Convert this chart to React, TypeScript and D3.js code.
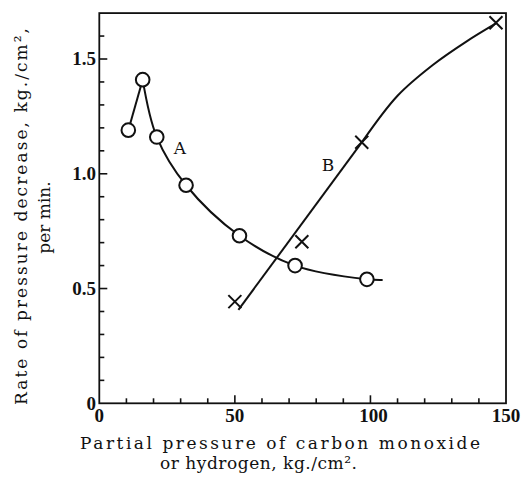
import React, { useEffect, useRef } from 'react';
import * as d3 from 'd3';

// Curve A: circles (carbon monoxide)
const aPressure = [10.7, 16, 21.2, 32, 51.7, 72.2, 98.7];
const aRate = [1.19, 1.41, 1.16, 0.95, 0.73, 0.6, 0.54];
// smooth line A: falling branch from the peak, ends a little past the last circle
const aLineX = [16, 21.2, 32, 51.7, 72.2, 98.7, 104.5];
const aLineY = [1.41, 1.16, 0.95, 0.73, 0.6, 0.54, 0.537];

// Curve B: crosses (hydrogen)
const bPressure = [50, 74.7, 96.8, 146.3];
const bRate = [0.443, 0.704, 1.137, 1.658];
const bLineX = [51.3, 97, 110, 123, 135.5, 146.3];
const bLineY = [0.407, 1.14, 1.34, 1.474, 1.577, 1.655];

const xTicks = [0, 50, 100, 150];
const yTicks = [0, 0.5, 1.0, 1.5];
const yTickLabels = ['0', '0.5', '1.0', '1.5'];

const App = () => {
  const svgRef = useRef<SVGSVGElement | null>(null);

  useEffect(() => {
    if (!svgRef.current) return;
    const width = 522;
    const height = 479;
    const svg = d3.select(svgRef.current);
    svg.attr('width', width).attr('height', height);
    svg.selectAll('*').remove();

    const x = d3.scaleLinear().domain([0, 150]).range([99.3, 506]);
    const y = d3.scaleLinear().domain([0, 1.7]).range([403.3, 13.1]);

    const ink = '#111';

    // frame
    svg.append('rect')
      .attr('x', x(0)).attr('y', y(1.7))
      .attr('width', x(150) - x(0)).attr('height', y(0) - y(1.7))
      .attr('fill', 'none').attr('stroke', ink).attr('stroke-width', 1.8);

    // inward ticks, left
    d3.range(1, 17).forEach(i => {
      const v = i / 10;
      const major = i % 5 === 0;
      svg.append('line')
        .attr('x1', x(0)).attr('x2', x(0) + (major ? 8 : 5))
        .attr('y1', y(v)).attr('y2', y(v))
        .attr('stroke', ink).attr('stroke-width', 1.6);
    });
    // inward ticks, bottom
    d3.range(1, 15).forEach(i => {
      const v = i * 10;
      const major = i % 5 === 0;
      svg.append('line')
        .attr('x1', x(v)).attr('x2', x(v))
        .attr('y1', y(0)).attr('y2', y(0) - (major ? 8 : 5))
        .attr('stroke', ink).attr('stroke-width', 1.6);
    });

    // tick labels
    const numFont = '"Liberation Serif", serif';
    yTicks.forEach((t, i) => {
      svg.append('text')
        .attr('x', 96).attr('y', y(t)).attr('dy', '0.34em')
        .attr('text-anchor', 'end')
        .style('font-family', numFont).style('font-weight', 'bold')
        .style('font-size', '19px').attr('fill', ink)
        .text(yTickLabels[i]);
    });
    xTicks.forEach(t => {
      svg.append('text')
        .attr('x', x(t) + (t === 100 ? 3 : 0)).attr('y', 422)
        .attr('text-anchor', 'middle')
        .style('font-family', numFont).style('font-weight', 'bold')
        .style('font-size', '19px').attr('fill', ink)
        .text(t);
    });

    // axis titles
    const labelFont = '"DejaVu Serif", serif';
    const labelSize = '17px';
    svg.append('text')
      .attr('x', 80).attr('y', 449)
      .attr('textLength', 400).attr('lengthAdjust', 'spacing')
      .style('font-family', labelFont).style('font-size', labelSize).attr('fill', ink)
      .text('Partial pressure of carbon monoxide');
    svg.append('text')
      .attr('x', 160).attr('y', 469)
      .attr('textLength', 197).attr('lengthAdjust', 'spacing')
      .style('font-family', labelFont).style('font-size', labelSize).attr('fill', ink)
      .text('or hydrogen, kg./cm².');

    svg.append('text')
      .attr('transform', 'translate(27,405) rotate(-90)')
      .attr('x', 0).attr('y', 0)
      .attr('textLength', 377).attr('lengthAdjust', 'spacing')
      .style('font-family', labelFont).style('font-size', labelSize).attr('fill', ink)
      .text('Rate of pressure decrease, kg./cm²,');
    svg.append('text')
      .attr('transform', 'translate(50,217.5) rotate(-90)')
      .attr('x', 0).attr('y', 0).attr('text-anchor', 'middle')
      .style('font-family', labelFont).style('font-size', labelSize).attr('fill', ink)
      .text('per min.');

    // curve A: straight rise to the peak, smooth fall after it
    svg.append('path')
      .attr('d', d3.line()([[x(aPressure[0]), y(aRate[0])], [x(aPressure[1]), y(aRate[1])]]))
      .attr('fill', 'none').attr('stroke', ink).attr('stroke-width', 2);
    const aLine = d3.line<number>()
      .x((d, i) => x(aLineX[i]))
      .y(d => y(d))
      .curve(d3.curveCatmullRom.alpha(0.5));
    svg.append('path')
      .attr('d', aLine(aLineY))
      .attr('fill', 'none').attr('stroke', ink).attr('stroke-width', 2);

    // curve B: straight part, then bends over
    svg.append('path')
      .attr('d', d3.line()([[x(bLineX[0]), y(bLineY[0])], [x(bLineX[1]), y(bLineY[1])]]))
      .attr('fill', 'none').attr('stroke', ink).attr('stroke-width', 2);
    const bLine = d3.line<number>()
      .x((d, i) => x(bLineX[i + 1]))
      .y(d => y(d))
      .curve(d3.curveCatmullRom.alpha(0.5));
    svg.append('path')
      .attr('d', bLine(bLineY.slice(1)))
      .attr('fill', 'none').attr('stroke', ink).attr('stroke-width', 2);

    // circles
    aPressure.forEach((p, i) => {
      svg.append('circle')
        .attr('cx', x(p)).attr('cy', y(aRate[i])).attr('r', 6.8)
        .attr('fill', '#fff').attr('stroke', ink).attr('stroke-width', 2);
    });

    // crosses
    const s = 6.5;
    bPressure.forEach((p, i) => {
      const cx = x(p);
      const cy = y(bRate[i]);
      svg.append('path')
        .attr('d', `M${cx - s},${cy - s}L${cx + s},${cy + s}M${cx - s},${cy + s}L${cx + s},${cy - s}`)
        .attr('stroke', ink).attr('stroke-width', 2).attr('fill', 'none');
    });

    // curve labels
    svg.append('text')
      .attr('x', 180).attr('y', 154).attr('text-anchor', 'middle')
      .style('font-family', labelFont).style('font-size', '17px').attr('fill', ink)
      .text('A');
    svg.append('text')
      .attr('x', 328).attr('y', 171).attr('text-anchor', 'middle')
      .style('font-family', labelFont).style('font-size', '17px').attr('fill', ink)
      .text('B');
  }, []);

  return (
    <div style={{ position: 'absolute', left: 0, top: 0 }}>
      <svg ref={svgRef}></svg>
    </div>
  );
};

export default App;
